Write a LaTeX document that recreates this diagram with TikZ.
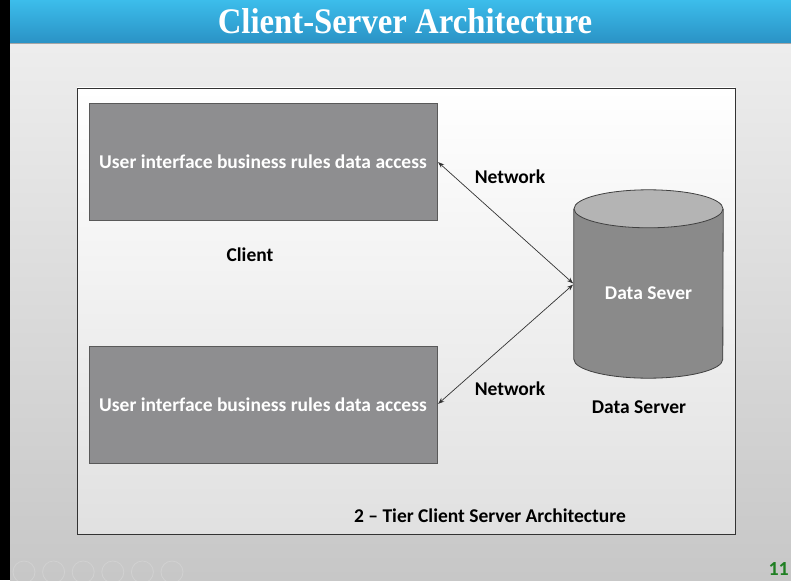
\documentclass[tikz,border=0pt]{standalone}
\usepackage{fontspec}
\setmainfont{Carlito}
\newfontfamily\titlefont{Liberation Serif}
\usetikzlibrary{arrows.meta,positioning}
\definecolor{barTop}{HTML}{3CBDEB}
\definecolor{barBot}{HTML}{2A92C5}
\definecolor{boxGray}{HTML}{8E8E90}
\definecolor{cylBody}{HTML}{8A8A8A}
\definecolor{cylTop}{HTML}{B4B4B4}
\definecolor{pageGreen}{HTML}{1F7F22}

\begin{document}
\begin{tikzpicture}[x=1pt, y=-1pt, >=Stealth, font=\bfseries\fontsize{19.5}{22}\selectfont]
\tikzset{
  tier/.style={rectangle, draw=black!65, line width=0.8pt, fill=boxGray, text=white, minimum width=348pt, minimum height=117pt},
  dbbody/.style={rectangle, minimum width=149pt, minimum height=150pt, inner sep=0pt},
  dbline/.style={draw=black!75, line width=0.8pt},
  lbl/.style={text=black, inner sep=1pt},
  link/.style={<->, line width=0.7pt, draw=black!80, shorten <=1pt, shorten >=1pt},
  navbtn/.style={circle, draw=black!18, line width=0.8pt, minimum size=22pt, inner sep=0pt}
}
\useasboundingbox (0,0) rectangle (791,580);
% slide background
\shade[top color=black!7, bottom color=black!22] (10,43) rectangle (791,580);
\fill[black] (0,0) rectangle (10,580);
\shade[top color=barTop, bottom color=barBot] (10,0) rectangle (791,43);
\draw[black!35, line width=1pt] (10,43.5) -- (791,43.5);
\node[text=white, font=\titlefont\bfseries\fontsize{36}{40}\selectfont, xscale=0.91] (title) at (405,21) {Client-Server Architecture};
% white panel
\shade[top color=white, bottom color=black!12] (77,88) rectangle (735,534);
\draw[black!80, line width=0.9pt] (77,88) rectangle (735,534);

\node[tier] (top)  at (263,161.5) {User interface business rules data access};
\node[tier] (bot)  at (263,404.5) {User interface business rules data access};

% data server cylinder
\node[dbbody] (ds) at (648.5,284) {};
\fill[cylBody] (ds.north west) -- (ds.south west) arc[start angle=180, end angle=0, x radius=74.5, y radius=19] -- (ds.north east) -- cycle;
\draw[dbline] (ds.north west) -- (ds.south west) arc[start angle=180, end angle=0, x radius=74.5, y radius=19] -- (ds.north east);
\filldraw[dbline, fill=cylTop] (ds.north) ellipse[x radius=74.5, y radius=19];
\node[text=white, inner sep=1pt] (dstext) at (648.5,293) {Data Sever};

\node[lbl] (client) at (250,255) {Client};
\node[lbl] (net1)   at (510,177) {Network};
\node[lbl] (net2)   at (510,389) {Network};
\node[lbl] (dslbl)  at (639,407) {Data Server};
\node[lbl] (cap)    at (490,516) {2 -- Tier Client Server Architecture};

\draw[link] (top.east) -- (ds.west);
\draw[link] (bot.east) -- (ds.west);

% slide show buttons and page number
\foreach \i in {0,...,5}
  \node[navbtn] (nav\i) at (24+29.6*\i,572) {};
\node[text=pageGreen, anchor=east, font=\bfseries\fontsize{20}{22}\selectfont, inner sep=0pt] (pg) at (789,569) {11};
\end{tikzpicture}
\end{document}
